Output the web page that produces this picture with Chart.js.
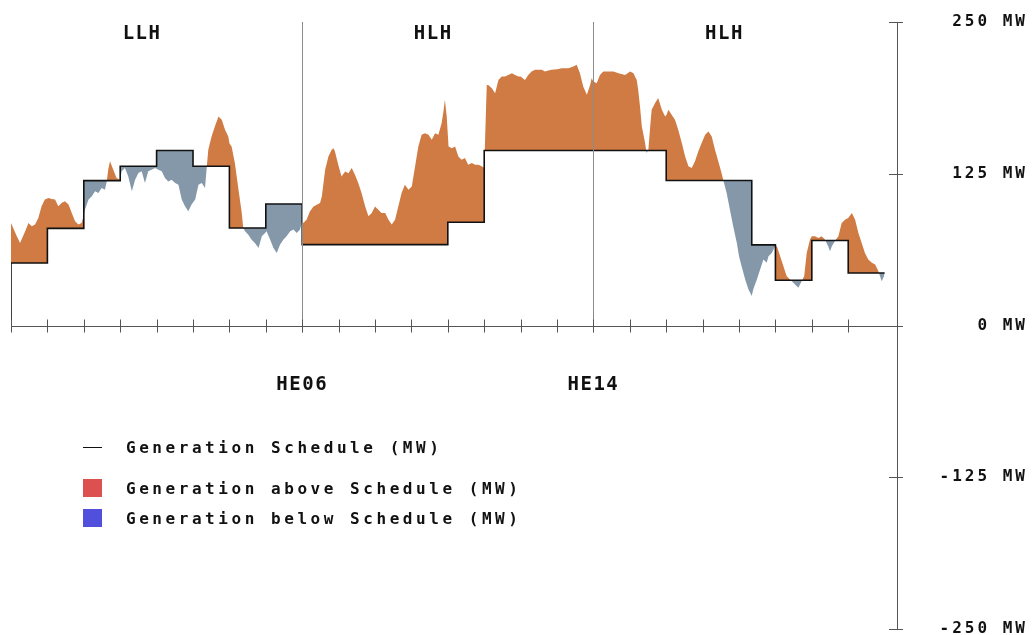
<!DOCTYPE html>
<html>
<head>
<meta charset="utf-8">
<title>Generation vs Schedule</title>
<script src="https://cdn.jsdelivr.net/npm/chart.js@4.4.1/dist/chart.umd.min.js"></script>
<style>
  html, body { margin: 0; padding: 0; background: #fff; }
  .c-wrap { position: relative; width: 1032px; height: 635px; }
  .c-legend { position: absolute; left: 83px; top: 0; font-family: 'DejaVu Sans Mono', monospace; font-size: 16px; font-weight: bold; letter-spacing: 3.55px; color: #111; }
  .c-legend__item { position: absolute; left: 0; height: 20px; display: flex; align-items: center; white-space: nowrap; }
  .c-legend__swatch { width: 19px; height: 18px; margin-right: 24px; }
  .c-legend__line { width: 19px; height: 1px; background: #111; margin-right: 24px; }
</style>
</head>
<body>
<div class="c-wrap">
  <canvas id="myChart" width="1032" height="635"></canvas>
  <div class="c-legend js-legend"></div>
</div>
<script>
'use strict';

const genHours = [
  0.00, 0.06, 0.16, 0.25, 0.29, 0.39, 0.48, 0.57, 0.66, 0.75, 0.84, 0.93,
  1.03, 1.12, 1.21, 1.30, 1.39, 1.48, 1.58, 1.67, 1.76, 1.85, 1.94, 2.00,
  2.03, 2.13, 2.22, 2.31, 2.40, 2.49, 2.58, 2.63, 2.67, 2.72, 2.81, 2.90, 3.00,
  3.04, 3.13, 3.22, 3.32, 3.41, 3.50, 3.59, 3.68, 3.77, 3.86, 3.96,
  4.05, 4.14, 4.23, 4.32, 4.41, 4.51, 4.60, 4.69, 4.78, 4.87, 4.96,
  5.06, 5.15, 5.24, 5.33, 5.38, 5.42, 5.51, 5.60, 5.70, 5.79, 5.88, 5.97,
  6.00, 6.06, 6.15, 6.25, 6.34, 6.38, 6.43, 6.52, 6.61, 6.70, 6.80, 6.89, 6.98,
  7.02, 7.12, 7.21, 7.30, 7.39, 7.48, 7.57, 7.67, 7.76, 7.85, 7.94,
  8.00, 8.03, 8.12, 8.21, 8.31, 8.40, 8.49, 8.54, 8.63, 8.72, 8.81, 8.86, 8.90, 8.99,
  9.08, 9.18, 9.27, 9.36, 9.45, 9.54, 9.63, 9.73, 9.82, 9.91,
  10.00, 10.09, 10.18, 10.28, 10.37, 10.46, 10.55, 10.64, 10.73, 10.82, 10.92,
  11.01, 11.10, 11.19, 11.28, 11.37, 11.47, 11.56, 11.65, 11.74, 11.83, 11.88, 11.92, 11.97,
  12.02, 12.11, 12.20, 12.29, 12.38, 12.47, 12.56, 12.66, 12.75, 12.84, 12.93,
  13.00, 13.07, 13.11, 13.21, 13.30, 13.39, 13.48, 13.57, 13.66, 13.76, 13.85, 13.94,
  14.00, 14.12, 14.21, 14.30, 14.40, 14.49, 14.58, 14.67, 14.76, 14.85,
  15.00, 15.13, 15.31, 15.45, 15.54, 15.63, 15.72, 15.82, 15.91, 15.95,
  16.00, 16.09, 16.18, 16.27, 16.41, 16.55, 16.69, 16.87,
  17.01, 17.10, 17.19, 17.23, 17.28, 17.33, 17.42, 17.46, 17.51, 17.56, 17.60, 17.69, 17.78, 17.88, 17.97,
  18.01, 18.06, 18.15, 18.24, 18.33, 18.43, 18.52, 18.61, 18.70, 18.79, 18.88, 18.97,
  19.07, 19.16, 19.25, 19.34, 19.43, 19.52, 19.57, 19.66, 19.75, 19.84, 19.94,
  20.00, 20.07, 20.17, 20.26, 20.35, 20.39, 20.49, 20.58, 20.67, 20.76, 20.81, 20.90, 20.99,
  21.04, 21.13, 21.22, 21.31, 21.45, 21.54, 21.63, 21.72, 21.79, 21.86, 21.95,
  22.00, 22.09, 22.18, 22.27, 22.36, 22.45, 22.50, 22.55, 22.64, 22.73, 22.82, 22.91,
  23.00, 23.10, 23.19, 23.28, 23.37, 23.46, 23.55, 23.65, 23.74, 23.83, 23.92, 24.00
];
const genMW = [
  84.5, 80.4, 73.5, 68.0, 70.8, 77.6, 84.5, 81.7, 83.1, 88.6, 98.2, 103.7,
  105.0, 104.2, 103.7, 98.2, 100.9, 102.3, 99.6, 92.7, 85.8, 83.1, 84.5, 91.3,
  95.4, 103.7, 106.4, 110.5, 109.2, 113.3, 111.9, 118.7, 128.3, 135.2, 128.3, 121.5, 120.1,
  127.0, 129.7, 122.9, 110.5, 120.1, 125.6, 127.0, 117.4, 127.0, 128.3, 129.7,
  128.3, 127.0, 121.5, 118.7, 120.1, 117.4, 116.0, 103.7, 98.2, 94.1, 99.6,
  103.7, 116.0, 117.4, 113.3, 131.1, 144.8, 155.7, 164.0, 172.2, 169.5, 161.2, 155.7,
  150.2, 147.5, 133.8, 111.8, 92.7, 80.3, 77.6, 74.8, 70.7, 68.0, 63.9, 73.5, 76.2,
  77.6, 70.7, 63.9, 59.8, 66.6, 70.7, 73.5, 77.6, 79.0, 76.2, 79.0,
  85.8, 84.4, 87.2, 94.0, 98.1, 99.5, 100.9, 106.4, 128.3, 139.3, 144.7, 146.1, 143.4, 132.4,
  122.8, 126.9, 125.5, 129.7, 124.2, 117.3, 109.1, 98.1, 89.9, 92.7,
  98.1, 95.4, 92.7, 92.7, 87.2, 83.1, 87.2, 98.1, 109.1, 116.0, 111.8,
  114.6, 131.0, 147.5, 157.1, 158.4, 157.1, 153.0, 158.4, 157.1, 166.7, 176.3, 185.9, 172.2,
  147.5, 146.1, 147.5, 139.3, 136.5, 137.9, 132.4, 133.8, 132.4, 132.4, 131.1,
  129.7, 198.2, 198.2, 195.5, 191.4, 202.3, 205.1, 205.1, 206.4, 207.8, 206.4, 205.1,
  205.1, 202.3, 206.4, 209.2, 210.6, 210.6, 210.6, 209.2, 210.0, 210.6,
  211.1, 211.9, 211.9, 213.3, 214.7, 207.8, 196.8, 190.0, 198.2, 203.7,
  201.0, 199.6, 206.4, 209.2, 209.2, 209.2, 207.8, 206.4,
  209.2, 207.8, 202.3, 194.1, 180.4, 164.0, 150.3, 142.0, 144.8, 164.0, 177.7, 183.1, 187.3, 177.7, 172.2,
  173.5, 177.7, 173.5, 169.4, 161.2, 150.2, 139.3, 131.1, 129.7, 135.2, 143.4, 150.2,
  157.1, 159.8, 155.7, 144.8, 135.2, 125.6, 119.5, 109.1, 95.4, 81.7, 68.0,
  57.0, 48.8, 37.9, 29.6, 24.2, 29.6, 37.9, 46.1, 54.3, 51.6, 57.0, 59.8, 65.3,
  65.3, 57.0, 48.8, 40.6, 36.5, 33.7, 31.0, 36.5, 40.6, 59.8, 70.8,
  73.5, 73.5, 72.1, 73.5, 70.8, 65.3, 61.2, 65.3, 69.9, 73.5, 84.5, 87.2,
  88.6, 92.7, 87.2, 76.2, 68.0, 59.8, 54.3, 51.6, 50.2, 44.7, 36.5, 41.9
];

// generation schedule, value holds from each hour until the next one
const schedHours = [0, 0, 1, 2, 3, 4, 5, 6, 7, 8, 12, 13, 18, 20.35, 21, 22, 23, 24];
const schedMW = [0, 51.5, 80.0, 119.3, 131.2, 144.2, 131.2, 80.3, 100.1, 66.6, 85.0, 144.2, 119.4, 66.4, 37.3, 70.0, 43.3, 43.3];

const hourTicks = [0, 1, 2, 3, 4, 5, 6, 7, 8, 9, 10, 11, 12, 13, 14, 15, 16, 17, 18, 19, 20, 21, 22, 23];
const yTicks = [-250, -125, 0, 125, 250];
const sectionLabels = ['LLH', 'HLH', 'HLH'];
const sectionLabelHours = [3.6, 11.6, 19.6];
const markerHours = [8, 16];
const markerLabels = ['HE06', 'HE14'];

const legendLabels = ['Generation Schedule (MW)', 'Generation above Schedule (MW)', 'Generation below Schedule (MW)'];
const legendColors = ['#111111', '#dd5050', '#5050dd'];
const legendTops = [437, 478, 508];

const colorAbove = '#cf7b43';
const colorBelow = '#8598aa';
const axisColor = '#555555';
const fontFamily = "'DejaVu Sans Mono', monospace";

const decorPlugin = {
  id: 'decor',
  beforeDraw: function(chart) {
    chart.ctx.letterSpacing = '3px';
  },
  afterDraw: function(chart) {
    const ctx = chart.ctx;
    const x = chart.scales.x;
    const y = chart.scales.y;
    const area = chart.chartArea;
    const y0 = Math.round(y.getPixelForValue(0)) + 0.5;
    const yTop = y.getPixelForValue(250);
    ctx.save();
    ctx.lineWidth = 1;

    // hour separators
    ctx.strokeStyle = '#8c8c8c';
    for (let h of markerHours) {
      const px = Math.round(x.getPixelForValue(h)) + 0.5;
      ctx.beginPath();
      ctx.moveTo(px, yTop);
      ctx.lineTo(px, y0 + 6);
      ctx.stroke();
    }

    // zero line with hour ticks
    ctx.strokeStyle = axisColor;
    ctx.beginPath();
    ctx.moveTo(area.left, y0);
    ctx.lineTo(area.right, y0);
    ctx.stroke();
    for (let h of hourTicks) {
      const px = Math.round(x.getPixelForValue(h)) + 0.5;
      ctx.beginPath();
      ctx.moveTo(px, y0 - 7);
      ctx.lineTo(px, y0 + 6);
      ctx.stroke();
    }

    // crossing ticks on the MW axis
    for (let v of yTicks) {
      const py = Math.round(y.getPixelForValue(v)) + 0.5;
      ctx.beginPath();
      ctx.moveTo(area.right - 8, py);
      ctx.lineTo(area.right + 6, py);
      ctx.stroke();
    }

    ctx.fillStyle = '#111';
    ctx.font = 'bold 19px ' + fontFamily;
    ctx.letterSpacing = '1.5px';
    ctx.textAlign = 'center';
    ctx.textBaseline = 'middle';
    sectionLabels.forEach(function(label, i) {
      ctx.fillText(label, x.getPixelForValue(sectionLabelHours[i]), area.top + 12);
    });
    markerLabels.forEach(function(label, i) {
      ctx.fillText(label, x.getPixelForValue(markerHours[i]), y0 + 59);
    });
    ctx.restore();
  }
};

const maakLegende = function() {
  const legend = document.querySelector('.js-legend');
  let html = '';
  legendLabels.forEach(function(label, i) {
    const swatch = i === 0
      ? `<span class="c-legend__line" style="background:${legendColors[i]}"></span>`
      : `<span class="c-legend__swatch" style="background:${legendColors[i]}"></span>`;
    html += `<div class="c-legend__item" style="top:${legendTops[i]}px">${swatch}<span>${label}</span></div>`;
  });
  legend.innerHTML = html;
};

const displayChart = function() {
  const ctx = document.getElementById('myChart');
  const myChart = new Chart(ctx, {
    type: 'line',
    data: {
      datasets: [
        {
          label: 'Generation (MW)',
          data: genHours.map(function(h, i) { return { x: h, y: genMW[i] }; }),
          borderWidth: 0,
          borderColor: colorAbove,
          pointRadius: 0,
          tension: 0,
          fill: { target: 1, above: colorAbove, below: colorBelow },
          order: 1
        },
        {
          label: 'Generation Schedule (MW)',
          data: schedHours.map(function(h, i) { return { x: h, y: schedMW[i] }; }),
          borderColor: '#111111',
          borderWidth: 1.6,
          stepped: true,
          pointRadius: 0,
          fill: false,
          order: 0
        }
      ]
    },
    options: {
      responsive: false,
      animation: false,
      layout: { padding: { left: 11, right: 4, top: 22, bottom: 6 } },
      scales: {
        x: { type: 'linear', min: 0, max: 24.34, display: false },
        y: {
          position: 'right',
          min: -250,
          max: 250,
          afterBuildTicks: function(scale) {
            scale.ticks = yTicks.map(function(v) { return { value: v }; });
          },
          afterFit: function(scale) {
            scale.width = 131;
            scale.paddingTop = 0;
            scale.paddingBottom = 0;
          },
          grid: { display: false },
          border: { display: true, color: axisColor, width: 1 },
          ticks: {
            crossAlign: 'far',
            padding: 8,
            color: '#111',
            font: { family: fontFamily, size: 16, weight: 'bold' },
            callback: function(v) { return `${v} MW`; }
          }
        }
      },
      plugins: {
        legend: { display: false },
        tooltip: { enabled: false },
        filler: { drawTime: 'beforeDatasetsDraw' }
      }
    },
    plugins: [decorPlugin]
  });
};

document.addEventListener('DOMContentLoaded', function() {
  maakLegende();
  displayChart();
});
</script>
</body>
</html>
